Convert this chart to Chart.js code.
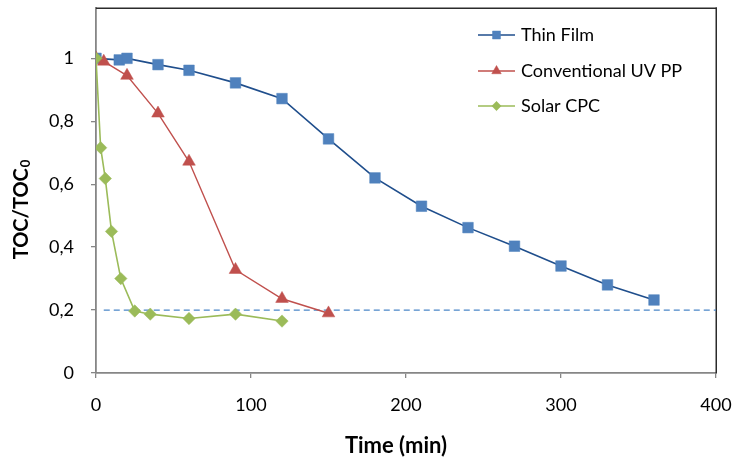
<!DOCTYPE html>
<html><head><meta charset="utf-8">
<script src="https://cdn.jsdelivr.net/npm/chart.js@4.4.1/dist/chart.umd.min.js"></script>
<style>html,body{margin:0;padding:0;background:#fff;overflow:hidden}#wrap{width:738px;height:465px}</style>
</head><body><div id="wrap"><canvas id="c" width="738" height="465"></canvas></div>
<script>
const thinFilmTime = [0, 15, 20, 40, 60, 90, 120, 150, 180, 210, 240, 270, 300, 330, 360];
const thinFilmToc  = [1.0, 0.995, 1.0, 0.98, 0.962, 0.922, 0.872, 0.744, 0.62, 0.53, 0.462, 0.403, 0.34, 0.28, 0.232];
const uvTime = [0, 5, 20, 40, 60, 90, 120, 150];
const uvToc  = [1.0, 0.99, 0.945, 0.825, 0.672, 0.328, 0.236, 0.19];
const cpcTime = [0, 3, 6, 10, 16, 25, 35, 60, 90, 120];
const cpcToc  = [1.0, 0.716, 0.618, 0.45, 0.30, 0.197, 0.187, 0.173, 0.187, 0.165];
const limitTime = [5, 400];
const limitToc = [0.2, 0.2];
const xTicks = [0, 100, 200, 300, 400];
const yTicks = [0, 0.2, 0.4, 0.6, 0.8, 1];
const seriesNames = ['Thin Film', 'Conventional UV PP', 'Solar CPC'];

const FONT = 'Lato, "Open Sans", sans-serif';
const pts = (xs, ys) => xs.map((x, i) => ({x, y: ys[i]}));

const styles = [
  {line:'#1F4E8C', fill:'#4F81BD', shape:'rect', r:7.5, w:1.6},
  {line:'#C0504D', fill:'#C0504D', shape:'triangle', r:7.3, w:1.4},
  {line:'#9BBB59', fill:'#9BBB59', shape:'rectRot', r:6.2, w:1.6}
];
const seriesData = [pts(thinFilmTime, thinFilmToc), pts(uvTime, uvToc), pts(cpcTime, cpcToc)];

const datasets = [{
  label: 'limit', data: pts(limitTime, limitToc), borderColor: '#4A86C8', borderWidth: 1.3,
  borderDash: [6, 4], pointRadius: 0, order: 10
}];
seriesNames.forEach((n, i) => datasets.push({
  label: n, data: seriesData[i], borderColor: styles[i].line, borderWidth: styles[i].w,
  backgroundColor: styles[i].fill, pointBackgroundColor: styles[i].fill, pointBorderColor: styles[i].fill,
  pointBorderWidth: 0.5, pointStyle: styles[i].shape, pointRadius: styles[i].r, order: 3 - i
}));

const custom = {
  id: 'custom',
  beforeDatasetsDraw(chart) {
    const {ctx, chartArea: a} = chart;
    ctx.save();
    ctx.fillStyle = '#2b2b2b';
    ctx.fillRect(a.left, a.top - 0.5, a.right - a.left + 1, 1.5);
    ctx.fillRect(a.right - 0.5, a.top - 0.5, 1.5, a.bottom - a.top + 1);
    ctx.restore();
  },
  afterDraw(chart) {
    const {ctx, chartArea: a} = chart;
    ctx.save();
    ctx.fillStyle = '#000';
    // x title
    ctx.font = 'bold 22px ' + FONT;
    ctx.textAlign = 'center'; ctx.textBaseline = 'middle';
    ctx.fillText('Time (min)', 396, 446);
    // y title with subscript
    ctx.translate(22, 210);
    ctx.rotate(-Math.PI / 2);
    ctx.textAlign = 'left'; ctx.textBaseline = 'middle';
    const main = 'TOC/TOC';
    ctx.font = 'bold 20px ' + FONT;
    const w1 = ctx.measureText(main).width;
    ctx.font = 'bold 13px ' + FONT;
    const w2 = ctx.measureText('0').width;
    const x0 = -(w1 + w2) / 2;
    ctx.font = 'bold 20px ' + FONT;
    ctx.fillText(main, x0, 0);
    ctx.font = 'bold 13px ' + FONT;
    ctx.fillText('0', x0 + w1 + 1, 4);
    ctx.restore();
    // legend
    ctx.save();
    const rows = [35, 71, 106];
    chart.data.datasets.slice(1).forEach((ds, i) => {
      const y = rows[i];
      ctx.strokeStyle = styles[i].line; ctx.lineWidth = styles[i].w;
      ctx.beginPath(); ctx.moveTo(478, y); ctx.lineTo(515, y); ctx.stroke();
      ctx.fillStyle = styles[i].fill; ctx.strokeStyle = styles[i].fill; ctx.lineWidth = 0.5;
      Chart.helpers.drawPoint(ctx, {pointStyle: styles[i].shape, radius: styles[i].r * 0.75, rotation: 0, borderWidth: 0.5}, 496.5, y);
      ctx.fillStyle = '#000';
      ctx.font = '18px ' + FONT; ctx.textAlign = 'left'; ctx.textBaseline = 'middle';
      ctx.fillText(ds.label, 521, y);
    });
    ctx.restore();
  }
};

new Chart(document.getElementById('c'), {
  type: 'line',
  data: {datasets},
  plugins: [custom],
  options: {
    responsive: false, animation: false, devicePixelRatio: 1,
    layout: {padding: {top: 6, right: 22, left: 0, bottom: 0}},
    plugins: {legend: {display: false}, tooltip: {enabled: false}},
    scales: {
      x: {
        type: 'linear', min: 0, max: 400,
        afterBuildTicks: s => { s.ticks = xTicks.map(v => ({value: v})); },
        afterFit: s => { s.height = 92; s.paddingLeft = 0; s.paddingRight = 0; s.paddingTop = 0; s.paddingBottom = 0; },
        grid: {display: true, drawOnChartArea: false, drawTicks: true, tickLength: 5, color: '#868686', lineWidth: 1.3},
        border: {color: '#868686', width: 1.8},
        ticks: {font: {family: FONT, size: 18}, color: '#000', padding: 16, maxRotation: 0}
      },
      y: {
        type: 'linear', min: 0, max: 1.16,
        afterBuildTicks: s => { s.ticks = yTicks.map(v => ({value: v})); },
        afterFit: s => { s.width = 96; s.paddingLeft = 0; s.paddingRight = 0; s.paddingTop = 0; s.paddingBottom = 0; },
        grid: {display: true, drawOnChartArea: false, drawTicks: true, tickLength: 5, color: '#868686', lineWidth: 1.3},
        border: {color: '#868686', width: 1.8},
        ticks: {font: {family: FONT, size: 18}, color: '#000', padding: 17,
          callback: v => String(v).replace('.', ',')}
      }
    }
  }
});
</script></body></html>
